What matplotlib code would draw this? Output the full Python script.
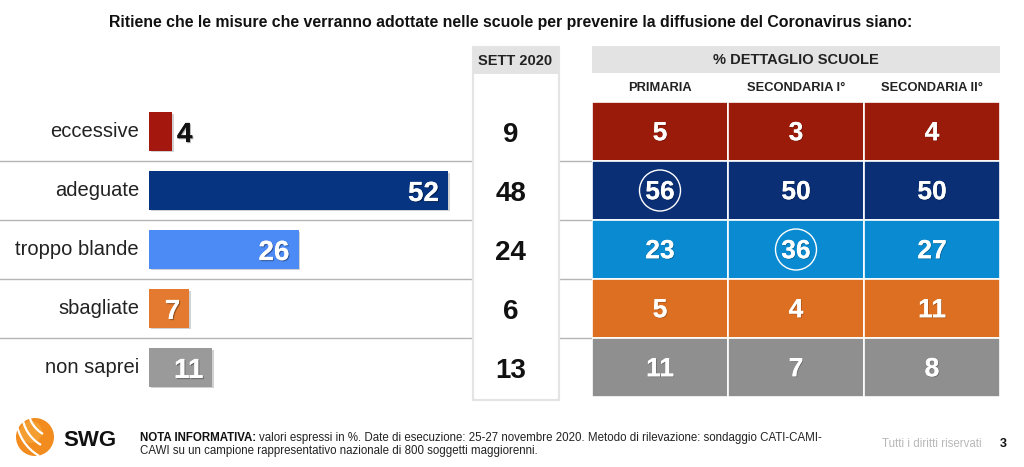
import matplotlib
matplotlib.use("Agg")
import matplotlib.pyplot as plt
import matplotlib.patheffects as pe
from matplotlib.patches import Rectangle, Circle, Arc, Ellipse

plt.rcParams['font.family'] = ['Liberation Sans', 'DejaVu Sans']

# ---------------- data ----------------
title = "Ritiene che le misure che verranno adottate nelle scuole per prevenire la diffusione del Coronavirus siano:"
categories = ["eccessive", "adeguate", "troppo blande", "sbagliate", "non saprei"]
values_nov = [4, 52, 26, 7, 11]
values_sett = [9, 48, 24, 6, 13]
school_cols = ["PRIMARIA", "SECONDARIA I°", "SECONDARIA II°"]
primaria = [5, 56, 23, 5, 11]
secondaria1 = [3, 50, 36, 4, 7]
secondaria2 = [4, 50, 27, 11, 8]
highlighted = [(1, 0), (2, 1)]  # (row, col) circled

bar_colors = ["#A3170F", "#063480", "#4C8BF5", "#E37A2F", "#9A9A9A"]
cell_colors = ["#9B1B0B", "#0B2F74", "#0A8AD0", "#DC6F22", "#8F8F8F"]

W, H = 1024, 467
fig = plt.figure(figsize=(W / 100, H / 100), dpi=100)
fig.patch.set_facecolor("white")

def fbox(x0, y0, x1, y1):
    return [x0 / W, 1 - y1 / H, (x1 - x0) / W, (y1 - y0) / H]

def shadow(off=0.7, alpha=0.35):
    return [pe.withSimplePatchShadow(offset=(off, -off), shadow_rgbFace="#000000", alpha=alpha), pe.Normal()]

# overlay in pixel coordinates
ov = fig.add_axes([0, 0, 1, 1], zorder=0)
ov.set_xlim(0, W)
ov.set_ylim(H, 0)
ov.axis("off")

ov.text(511, 22, title, ha="center", va="center", fontsize=11.4, fontweight="bold", color="#111111")

# row geometry
row_top, row_pitch = 102, 59
for i in range(1, len(categories)):
    y = row_top + row_pitch * i
    ov.plot([0, 592], [y, y], color="#b5b5b5", lw=1.0, zorder=1)

# ---------------- bar chart ----------------
ax = fig.add_axes(fbox(149, row_top, 470, row_top + row_pitch * 5), zorder=2)
ax.set_xlim(0, (470 - 149) / 5.75)
ax.set_ylim(len(categories) - 0.5, -0.5)
ax.axis("off")
ypos = list(range(len(categories)))
bars = ax.barh(ypos, values_nov, height=0.65, color=bar_colors, zorder=3)
for b in bars:
    b.set_path_effects([pe.withSimplePatchShadow(offset=(1.2, -1.2), shadow_rgbFace="#000000", alpha=0.18), pe.Normal()])
for i, (cat, v) in enumerate(zip(categories, values_nov)):
    ax.text(-10 / 5.75, i, cat, ha="right", va="center", fontsize=14.5, color="#222222")
    if v < 6:
        ax.text(v + 5 / 5.75, i + 0.06, str(v), ha="left", va="center", fontsize=20,
                fontweight="bold", color="#111111", path_effects=shadow(0.8, 0.3), zorder=4)
    else:
        ax.text(v - 9 / 5.75, i + 0.06, str(v), ha="right", va="center", fontsize=20,
                fontweight="bold", color="white", path_effects=shadow(0.8, 0.35), zorder=4)

# ---------------- SETT 2020 column ----------------
sx = fig.add_axes(fbox(473, row_top, 559, row_top + row_pitch * 5), zorder=3)
sx.set_xlim(0, 1)
sx.set_ylim(len(categories) - 0.5, -0.5)
sx.axis("off")
ov.add_patch(Rectangle((473, 47), 86, 353, facecolor="white", edgecolor="#e4e4e4", lw=1.6, zorder=5))
ov.add_patch(Rectangle((473, 47), 86, 27, facecolor="#e3e3e3", edgecolor="none", zorder=6))
ov.text(515, 61, "SETT 2020", ha="center", va="center", fontsize=10.5, fontweight="bold", color="#222222", zorder=7)
for i, v in enumerate(values_sett):
    sx.text(0.44, i + 0.06, str(v), ha="center", va="center", fontsize=20, fontweight="bold", color="#111111")

# ---------------- school table ----------------
ov.add_patch(Rectangle((592, 46), 408, 27, facecolor="#e3e3e3", edgecolor="none", zorder=2))
ov.text(796, 60, "% DETTAGLIO SCUOLE", ha="center", va="center", fontsize=10.5, fontweight="bold", color="#222222")

tx = fig.add_axes(fbox(592, row_top - 30, 1000, row_top + row_pitch * 5), zorder=3)
tx.set_xlim(0, 3)
tx.set_ylim(len(categories), -30 / row_pitch)
tx.axis("off")
table = [primaria, secondaria1, secondaria2]
for j, name in enumerate(school_cols):
    tx.text(j + 0.5, -14 / row_pitch, name, ha="center", va="center", fontsize=9.3, fontweight="bold", color="#222222")
    for i, v in enumerate(table[j]):
        tx.add_patch(Rectangle((j, i), 1, 1, facecolor=cell_colors[i], edgecolor="white", lw=1.2))
        tx.text(j + 0.5, i + 0.53, str(v), ha="center", va="center", fontsize=19, fontweight="bold", color="white",
                path_effects=shadow(0.6, 0.25))
for (i, j) in highlighted:
    tx.add_patch(Ellipse((j + 0.5, i + 0.5), 41 / 136, 41 / row_pitch,
                         facecolor="none", edgecolor="white", lw=1.0, zorder=10))

# ---------------- footer ----------------
ov.add_patch(Circle((35, 437), 19, facecolor="#F28C1E", edgecolor="none", zorder=3))
ov.add_patch(Circle((31, 432), 11, facecolor="#F6A53A", edgecolor="none", alpha=0.7, zorder=3))
for k, (cx, cy, r) in enumerate([(58, 408, 30), (60, 412, 38), (62, 416, 46)]):
    ov.add_patch(Arc((cx, cy), 2 * r, 2 * r, theta1=120, theta2=175, color="white", lw=1.6, zorder=4))
ov.text(63, 440, "SWG", ha="left", va="center", fontsize=16, fontweight="bold", color="#111111")

FS = 8.3
t1 = ov.text(140, 438, "NOTA INFORMATIVA:", ha="left", va="center", fontsize=FS, fontweight="bold",
             color="#111111")
fig.canvas.draw()
bb = t1.get_window_extent()
x_after = bb.x1 + 3
ov.text(x_after, 438,
        "valori espressi in %. Date di esecuzione: 25-27 novembre 2020. Metodo di rilevazione: sondaggio CATI-CAMI-",
        ha="left", va="center", fontsize=FS, color="#222222")
ov.text(140, 451, "CAWI su un campione rappresentativo nazionale di 800 soggetti maggiorenni.",
        ha="left", va="center", fontsize=FS, color="#222222")
ov.text(982, 444, "Tutti i diritti riservati", ha="right", va="center", fontsize=FS, color="#b8b8b8")
ov.text(1003, 444, "3", ha="center", va="center", fontsize=9, fontweight="bold", color="#111111")

fig.savefig("out.png", dpi=100, facecolor="white")
